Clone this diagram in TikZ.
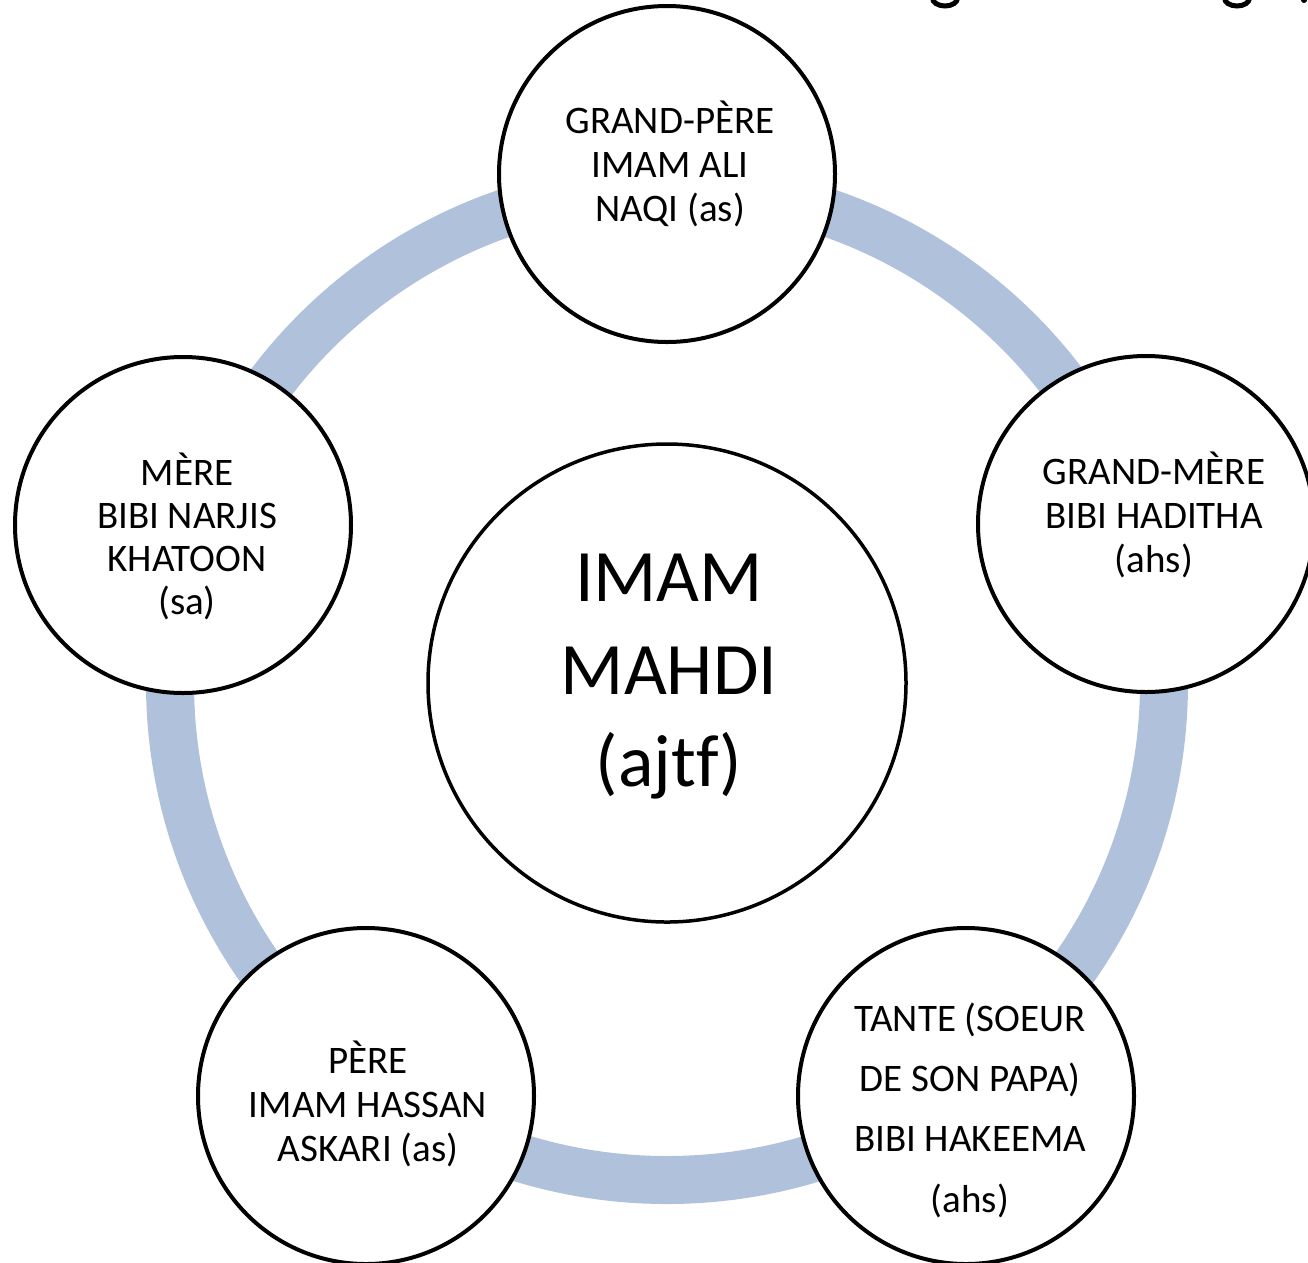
\documentclass[tikz,border=0pt]{standalone}
\usepackage{fontspec}
\setmainfont{Carlito}[Ligatures=NoCommon]
\definecolor{ringblue}{RGB}{176,193,220}
\begin{document}
\begin{tikzpicture}[x=1pt,y=-1pt,
  member/.style={circle, draw=black, line width=4pt, fill=white, minimum size=336pt, inner sep=0pt},
  hub/.style={circle, draw=black, line width=3.5pt, fill=white, minimum size=478pt, inner sep=0pt},
  lbl/.style={align=center, font=\fontsize{39}{44}\selectfont, inner sep=0pt},
  widelbl/.style={align=center, font=\fontsize{39}{60.3}\selectfont, inner sep=0pt},
  hublbl/.style={align=center, font=\fontsize{74}{92.5}\selectfont, inner sep=0pt},
  glyphcut/.style={line width=5pt, black}]
\useasboundingbox (0,0) rectangle (1308,1262);
\clip (0,0) rectangle (1308,1262);
\fill[white] (0,0) rectangle (1308,1262);
\coordinate (o) at (667,683);
% ring
\draw[ringblue, line width=48pt] (o) circle[radius=497];
% cut-off glyph fragments at the top edge
\draw[glyphcut] (957.5,-2) arc[start angle=0, end angle=180, x radius=12.5, y radius=8];
\draw[glyphcut] (1249.5,-2) arc[start angle=0, end angle=180, x radius=12.5, y radius=8];
\fill[black] (1304,0) circle[radius=3];
% circles
\node[hub] (hubc) at (o) {};
\node[member] (top) at (667,174) {};
\node[member] (right) at (1146,524) {};
\node[member] (bright) at (966,1096) {};
\node[member] (bleft) at (366,1096) {};
\node[member] (left) at (183,525) {};
% texts
\node[hublbl] (hubt) at (669,677) {IMAM\\MAHDI\\(aj\mbox{t}f)};
\node[lbl] (topt) at (670,164) {GRAND-PÈRE\\IMAM ALI\\NAQI (as)};
\node[lbl] (rightt) at (1154,515) {GRAND-MÈRE\\BIBI HADITHA\\(ahs)};
\node[widelbl] (brightt) at (970,1110) {TANTE (SOEUR\\DE SON PAPA)\\BIBI HAKEEMA\\(ahs)};
\node[lbl] (bleftt) at (368,1104) {PÈRE\\IMAM HASSAN\\ASKARI (as)};
\node[lbl, font=\fontsize{39}{43}\selectfont] (leftt) at (187,536) {MÈRE\\BIBI NARJIS\\KHATOON\\(sa)};
\end{tikzpicture}
\end{document}
